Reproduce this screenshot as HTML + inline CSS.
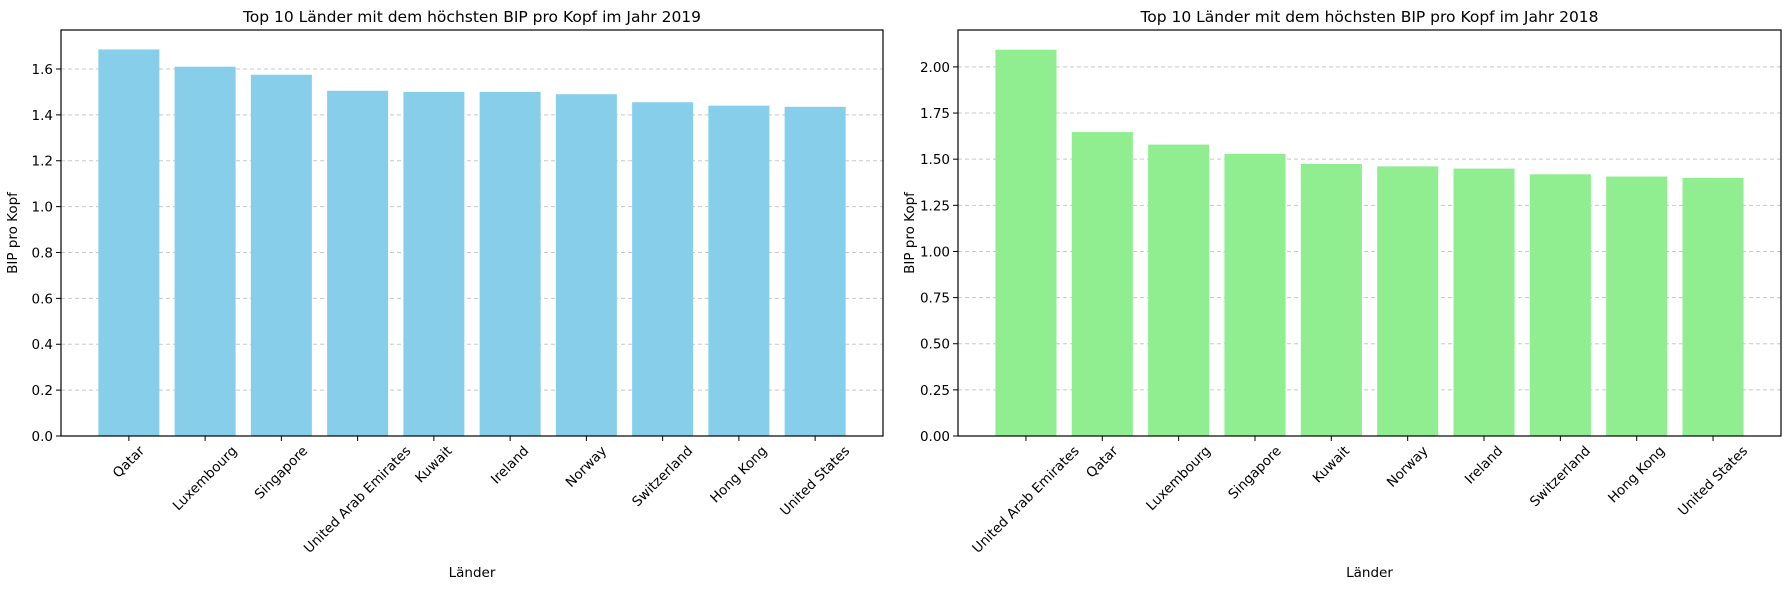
<!DOCTYPE html>
<html><head><meta charset="utf-8"><style>
body{margin:0;background:#fff;}
svg text{font-family:"DejaVu Sans","Liberation Sans",sans-serif;fill:#000;}
</style></head><body>
<svg id="chart" width="1790" height="590" xmlns="http://www.w3.org/2000/svg"></svg>
<script>
const countries2019 = ["Qatar","Luxembourg","Singapore","United Arab Emirates","Kuwait","Ireland","Norway","Switzerland","Hong Kong","United States"];
const values2019 = [1.685,1.61,1.575,1.505,1.50,1.50,1.49,1.455,1.44,1.435];
const ticks2019 = ["0.0","0.2","0.4","0.6","0.8","1.0","1.2","1.4","1.6"];
const countries2018 = ["United Arab Emirates","Qatar","Luxembourg","Singapore","Kuwait","Norway","Ireland","Switzerland","Hong Kong","United States"];
const values2018 = [2.093,1.647,1.579,1.529,1.474,1.461,1.449,1.418,1.406,1.399];
const ticks2018 = ["0.00","0.25","0.50","0.75","1.00","1.25","1.50","1.75","2.00"];

const NS="http://www.w3.org/2000/svg";
const svg=document.getElementById('chart');
function mk(tag,attrs,parent){const e=document.createElementNS(NS,tag);for(const k in attrs)e.setAttribute(k,attrs[k]);(parent||svg).appendChild(e);return e;}

function panel(prefix,x0,x1,ymax,cats,vals,ticks,color,title){
  const y0=436,yTop=30;
  const g=mk('g',{});
  
  
  const yScale=v=>y0-(v/ymax)*(y0-yTop);
  const n=cats.length;
  const span=(n-1)+0.8; const lo=-0.4-span*0.05; const hi=(n-1)+0.4+span*0.05;
  const xScale=i=>x0+(i-lo)/(hi-lo)*(x1-x0);
  const u=(x1-x0)/(hi-lo);
  ticks.forEach(t=>{const v=parseFloat(t);const y=yScale(v);
    const gl=mk('line',{x1:x0,x2:x1,y1:y,y2:y,stroke:'#c8c8c8','stroke-width':1,'stroke-dasharray':'4,3'},g);
    
    
  });
  cats.forEach((c,i)=>{const cx=xScale(i);const y=yScale(vals[i]);
    const b=mk('rect',{x:cx-0.4*u,y:y,width:0.8*u,height:y0-y,fill:color},g);
    
    
    mk('line',{x1:cx,x2:cx,y1:y0,y2:y0+5,stroke:'#000','stroke-width':1},g);
    const t=mk('text',{x:0,y:0,'font-size':13.5,'text-anchor':'middle','dominant-baseline':'central'},g);
    t.textContent=c;
    
    
    const w=t.getComputedTextLength(), h=13.5;
    const bh=(w+h)*0.7071;
    t.setAttribute('transform',`translate(${cx},${y0+8+bh/2}) rotate(-45)`);
  });
  ticks.forEach(tk=>{const y=yScale(parseFloat(tk));
    mk('line',{x1:x0-5,x2:x0,y1:y,y2:y,stroke:'#000','stroke-width':1},g);
    const t=mk('text',{x:x0-8,y:y+5,'font-size':13.5,'text-anchor':'end'},g);
    t.textContent=tk;
    
    
  });
  const fr=mk('rect',{x:x0,y:yTop,width:x1-x0,height:y0-yTop,fill:'none',stroke:'#000','stroke-width':1.2},g);
  
  
  const tt=mk('text',{x:(x0+x1)/2,y:22,'font-size':15.5,'text-anchor':'middle'},g);
  tt.textContent=title;
  
  
  const xl=mk('text',{x:(x0+x1)/2,y:577,'font-size':13.5,'text-anchor':'middle'},g);
  xl.textContent='Länder';
  
  
  const yl=mk('text',{x:0,y:0,'font-size':13.5,'text-anchor':'middle',transform:`translate(${x0-44},${(y0+yTop)/2}) rotate(-90)`},g);
  yl.textContent='BIP pro Kopf';
  
  
}
panel('left',61,883,1.77,countries2019,values2019,ticks2019,'#87ceeb','Top 10 Länder mit dem höchsten BIP pro Kopf im Jahr 2019');
panel('right',958,1781,2.20,countries2018,values2018,ticks2018,'#90ee90','Top 10 Länder mit dem höchsten BIP pro Kopf im Jahr 2018');
</script>
</body></html>
